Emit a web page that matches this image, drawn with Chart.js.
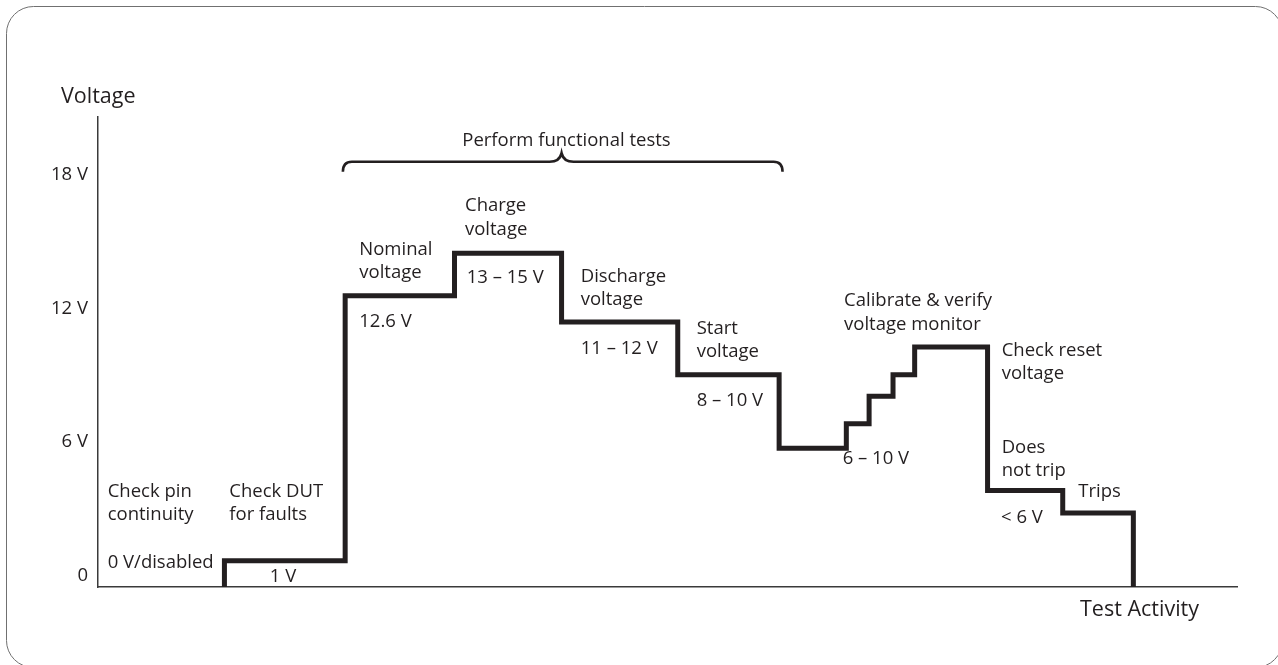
<!DOCTYPE html>
<html>
<head>
<meta charset="utf-8">
<script src="https://cdn.jsdelivr.net/npm/chart.js@4.4.0/dist/chart.umd.min.js"></script>
<style>
  html, body { margin: 0; padding: 0; background: #fff; }
  canvas { display: block; }
</style>
</head>
<body>
<canvas id="chart" width="1278" height="665"></canvas>
<script>
// test steps along the activity axis (arbitrary units, 0..100)
var steps = ['Check pin continuity', 'Check DUT for faults', 'Nominal voltage', 'Charge voltage',
  'Discharge voltage', 'Start voltage', 'Calibrate 1', 'Calibrate 2', 'Calibrate 3', 'Calibrate 4',
  'Check reset voltage', 'Does not trip', 'Trips'];
var stepStart = [11.1, 11.1, 21.7, 31.3, 40.7, 50.9, 59.8, 65.7, 67.7, 69.8, 71.7, 78.1, 84.7, 90.9];
var stepVolts = [-0.5, 0.68, 12.57, 14.48, 11.4, 9.03, 5.73, 6.83, 8.06, 9.03, 10.27, 3.83, 2.82, -0.5];
var yTicks = [0, 6, 12, 18];

var ink = '#231f20';
var font = '"Open Sans", sans-serif';
var fontSize = 18.5;

var points = stepStart.map(function(x, i) { return { x: x, y: stepVolts[i] }; });

// annotations: left x / first line middle y, in data units
var notes = [
  { x: 0.85, y: 3.78, lines: ['Check pin', 'continuity'] },
  { x: 0.85, y: 0.58, lines: ['0 V/disabled'] },
  { x: 11.53, y: 3.78, lines: ['Check DUT', 'for faults'] },
  { x: 16.24, y: -0.05, lines: ['1 V'], align: 'center' },
  { x: 22.94, y: 14.66, lines: ['Nominal', 'voltage'] },
  { x: 22.94, y: 11.41, lines: ['12.6 V'] },
  { x: 32.22, y: 16.6, lines: ['Charge', 'voltage'] },
  { x: 32.37, y: 13.39, lines: ['13 \u2013 15 V'] },
  { x: 42.38, y: 13.43, lines: ['Discharge', 'voltage'] },
  { x: 42.38, y: 10.18, lines: ['11 \u2013 12 V'] },
  { x: 52.56, y: 11.11, lines: ['Start', 'voltage'] },
  { x: 52.56, y: 7.86, lines: ['8 \u2013 10 V'] },
  { x: 65.5, y: 12.34, lines: ['Calibrate & verify', 'voltage monitor'] },
  { x: 65.38, y: 5.28, lines: ['6 \u2013 10 V'] },
  { x: 79.34, y: 10.11, lines: ['Check reset', 'voltage'] },
  { x: 79.34, y: 5.75, lines: ['Does', 'not trip'] },
  { x: 79.28, y: 2.61, lines: ['< 6 V'] },
  { x: 86.07, y: 3.78, lines: ['Trips'] },
  { x: 41.13, y: 19.54, lines: ['Perform functional tests'], align: 'center' }
];
var brace = { from: 21.5, to: 60.1, tip: 40.7, y: 18.59, end: 18.14, top: 18.98 };

var decor = {
  id: 'decor',
  afterDraw: function(chart) {
    var ctx = chart.ctx;
    var xs = chart.scales.x, ys = chart.scales.y, area = chart.chartArea;
    ctx.save();

    // rounded frame
    ctx.strokeStyle = '#707070';
    ctx.lineWidth = 1;
    ctx.beginPath();
    ctx.roundRect(6.5, 6.5, 1276, 661, 27);
    ctx.stroke();

    ctx.fillStyle = ink;
    ctx.font = fontSize + 'px ' + font;
    ctx.textBaseline = 'middle';
    notes.forEach(function(n) {
      ctx.textAlign = n.align || 'left';
      var px = xs.getPixelForValue(n.x), py = ys.getPixelForValue(n.y);
      n.lines.forEach(function(t, i) { ctx.fillText(t, px, py + i * 23.3); });
    });

    // axis titles (a bit larger)
    ctx.font = '21.5px ' + font;
    ctx.textAlign = 'left';
    ctx.fillText('Voltage', area.left - 37, area.top - 20);
    ctx.fillText('Test Activity', area.right - 157, area.bottom + 23);

    // curly brace
    var l = xs.getPixelForValue(brace.from), r = xs.getPixelForValue(brace.to);
    var m = xs.getPixelForValue(brace.tip);
    var y = ys.getPixelForValue(brace.y), ye = ys.getPixelForValue(brace.end), yt = ys.getPixelForValue(brace.top);
    ctx.strokeStyle = ink;
    ctx.lineWidth = 2.6;
    ctx.beginPath();
    ctx.moveTo(l, ye);
    ctx.quadraticCurveTo(l, y, l + 9, y);
    ctx.lineTo(m - 12, y);
    ctx.quadraticCurveTo(m - 2, y, m, yt);
    ctx.quadraticCurveTo(m + 2, y, m + 12, y);
    ctx.lineTo(r - 9, y);
    ctx.quadraticCurveTo(r, y, r, ye);
    ctx.stroke();
    ctx.restore();
  }
};

new Chart(document.getElementById('chart'), {
  type: 'line',
  data: {
    datasets: [{
      label: 'Voltage',
      data: points,
      stepped: 'before',
      borderColor: ink,
      borderWidth: 5,
      borderJoinStyle: 'miter',
      borderCapStyle: 'butt',
      pointRadius: 0,
      fill: false
    }]
  },
  options: {
    responsive: false,
    animation: false,
    layout: { padding: { left: 8, top: 117, right: 41, bottom: 78 } },
    plugins: { legend: { display: false }, tooltip: { enabled: false } },
    scales: {
      x: {
        type: 'linear',
        min: 0,
        max: 100,
        grid: { display: false, drawTicks: false },
        border: { display: true, color: '#3a3a3a', width: 1.5 },
        ticks: { display: false },
        afterFit: function(scale) { scale.height = 0; }
      },
      y: {
        min: -0.5,
        max: 20.6,
        grid: { display: false, drawTicks: false },
        border: { display: true, color: '#3a3a3a', width: 1.5 },
        afterBuildTicks: function(scale) {
          scale.ticks = yTicks.map(function(v) { return { value: v }; });
        },
        afterFit: function(scale) { scale.width = 90; },
        ticks: {
          color: ink,
          padding: 10,
          font: { family: font, size: fontSize },
          callback: function(v) { return v === 0 ? '0' : v + ' V'; }
        }
      }
    }
  },
  plugins: [decor]
});
</script>
</body>
</html>
